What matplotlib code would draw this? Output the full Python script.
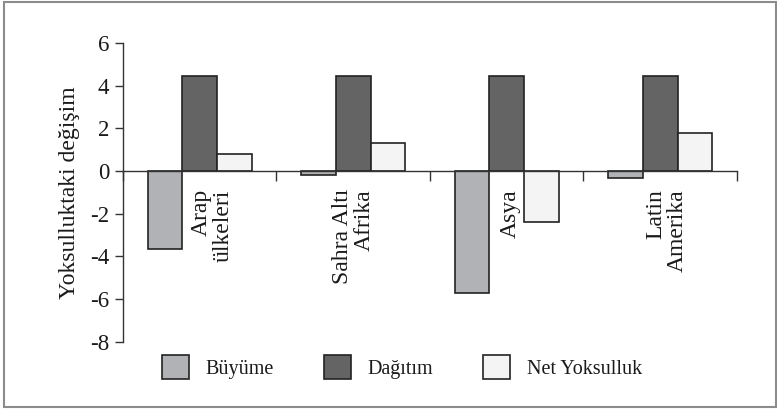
#!/usr/bin/env python3
"""
plot.py - Yoksulluktaki degisim bar chart (Buyume / Dagitim / Net Yoksulluk)
"""

import matplotlib
matplotlib.use("Agg")
import matplotlib.pyplot as plt
import numpy as np
from matplotlib.patches import Rectangle

plt.rcParams['font.family'] = ['Liberation Serif', 'DejaVu Serif']
plt.rcParams['axes.unicode_minus'] = False

# data
regions = ['Arap\nülkeleri', 'Sahra Altı\nAfrika', 'Asya', 'Latin\nAmerika']
series_names = ['Büyüme', 'Dağıtım', 'Net Yoksulluk']
buyume = [-3.65, -0.18, -5.7, -0.35]
dagitim = [4.45, 4.45, 4.45, 4.45]
net_yoksulluk = [0.82, 1.33, -2.4, 1.76]
y_ticks = [-8, -6, -4, -2, 0, 2, 4, 6]

colors = ['#b1b2b5', '#646464', '#f4f4f4']
edge = '#222222'
text_col = '#1a1a1a'

fig = plt.figure(figsize=(7.77, 4.09), dpi=100)
ax = fig.add_axes([0.1583, 0.1646, 0.7902, 0.7303])

x = np.arange(len(regions))
width = 0.225
for k, (vals, name) in enumerate(zip([buyume, dagitim, net_yoksulluk], series_names)):
    ax.bar(x + (k - 1) * width, vals, width, color=colors[k], edgecolor=edge,
           linewidth=1.2, label=name, zorder=2)

ax.set_xlim(-0.5, len(regions) - 0.5)
ax.set_ylim(-8, 6)
ax.set_yticks(y_ticks)
ax.set_yticklabels([str(t) for t in y_ticks], fontsize=16.5, color=text_col)
ax.set_xticks(np.arange(len(regions) + 1) - 0.5)
ax.set_xticklabels([])

for s in ['top', 'right']:
    ax.spines[s].set_visible(False)
ax.spines['bottom'].set_position(('data', 0))
for s in ['left', 'bottom']:
    ax.spines[s].set_color('#333333')
    ax.spines[s].set_linewidth(1.0)
    ax.spines[s].set_zorder(3)
ax.tick_params(axis='y', direction='out', length=6, width=1, color='#333333', pad=4)
ax.tick_params(axis='x', direction='out', length=7, width=1, color='#333333')

ax.set_ylabel('Yoksulluktaki değişim', fontsize=17, labelpad=7, color=text_col)

# category labels, rotated, hanging just below the zero line
label_shift = [0.08, 0.0, 0.02, 0.04]
for i, lab in enumerate(regions):
    ax.text(i + label_shift[i], -0.85, lab, rotation=90, ha='center', va='top',
            multialignment='right', fontsize=17, color=text_col,
            linespacing=1.05)

leg = ax.legend(loc='center left', bbox_to_anchor=(0.2085, 0.1027),
                bbox_transform=fig.transFigure, ncol=3, frameon=False,
                fontsize=14.5, handlelength=1.35, handleheight=1.5,
                handletextpad=0.8, columnspacing=2.5, borderpad=0,
                borderaxespad=0)
for t in leg.get_texts():
    t.set_color(text_col)

# outer frame around the whole picture
fig.patches.append(Rectangle((4 / 777, 2 / 409), 772 / 777, 405 / 409,
                             transform=fig.transFigure, fill=False,
                             edgecolor='#8c8c8c', linewidth=1.5))

fig.savefig('out.png', dpi=100)
